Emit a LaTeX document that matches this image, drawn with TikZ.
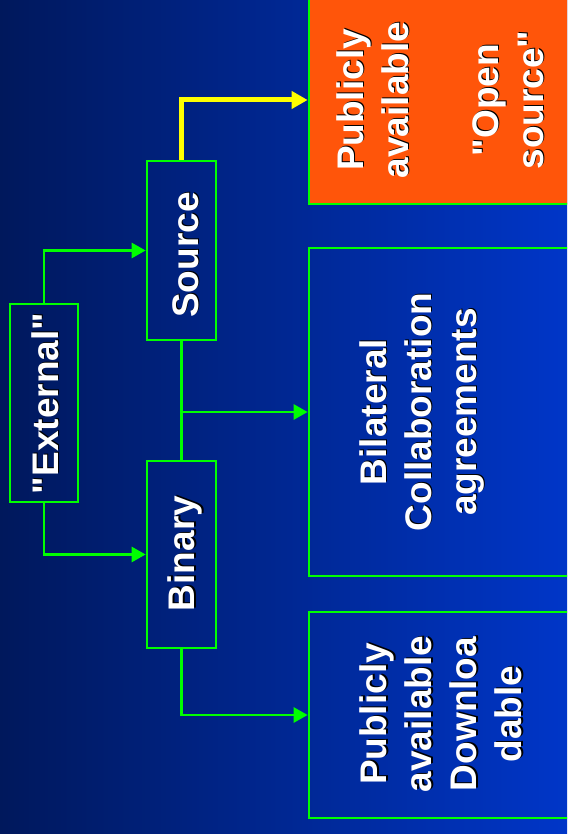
\documentclass[tikz,border=0pt]{standalone}
\usepackage{fontspec}
\setmainfont{Liberation Sans}[Ligatures=TeXOff]
\usetikzlibrary{arrows.meta,calc}
\definecolor{bgL}{RGB}{0,24,92}
\definecolor{bgR}{RGB}{0,54,200}
\definecolor{grn}{RGB}{0,255,0}
\definecolor{orng}{RGB}{255,85,10}
\definecolor{ylw}{RGB}{255,255,0}
\tikzset{
 box/.style={draw=grn, line width=2.7pt, inner sep=0pt},
 conn/.style={draw=grn, line width=2.7pt, -{Triangle[length=14pt,width=15pt]}},
 link/.style={draw=grn, line width=2.7pt},
 yconn/.style={draw=ylw, line width=5pt, -{Triangle[length=16pt,width=17pt]}},
 lbl/.style={rotate=90, text=white, font=\bfseries\fontsize{37}{45}\selectfont, align=center, inner sep=0pt},
 shd/.style={lbl, text=black},
}
\newcommand\shlabel[3]{%
  \node[shd] (#1s) at ($(#2)+(1.5pt,1pt)$) {#3};
  \node[lbl] (#1) at (#2) {#3};}
\begin{document}
\begin{tikzpicture}[x=1pt,y=1pt]
\useasboundingbox (0,0) rectangle (567,834);
\clip (0,0) rectangle (567,834);
\shade[left color=bgL,right color=bgR] (0,0) rectangle (567,834);
% boxes
\node[box, minimum width=68pt, minimum height=198pt] (ext) at (44,431) {};
\node[box, minimum width=69pt, minimum height=179pt] (src) at (181.5,583.5) {};
\node[box, minimum width=69pt, minimum height=187pt] (bin) at (181.5,279.5) {};
\node[box, fill=orng, minimum width=266pt, minimum height=208pt] (pub) at (442,734) {};
\node[box, minimum width=266pt, minimum height=328pt] (bil) at (442,422) {};
\node[box, minimum width=266pt, minimum height=206pt] (dl) at (442,119) {};
% connectors
\draw[conn] (ext.north) |- (src.west);
\draw[conn] (ext.south) |- (bin.west);
\draw[link] (src.south) -- (bin.north);
\draw[conn] (src.south |- bil.west) -- (bil.west);
\draw[conn] (bin.south) |- (dl.west);
\draw[yconn] (src.north) |- (pub.west);
% labels
\shlabel{extT}{45.2,430.5}{"External"}
\shlabel{srcT}{185.3,579}{Source}
\shlabel{binT}{185.4,280.5}{Binary}
\shlabel{pubT}{440,734}{Publicly\\available\\[45pt]"Open\\source"}
\shlabel{bilT}{422,422}{Bilateral\\Collaboration\\agreements}
\shlabel{dlT}{441,120}{Publicly\\available\\Downloa\\dable}
\end{tikzpicture}
\end{document}
